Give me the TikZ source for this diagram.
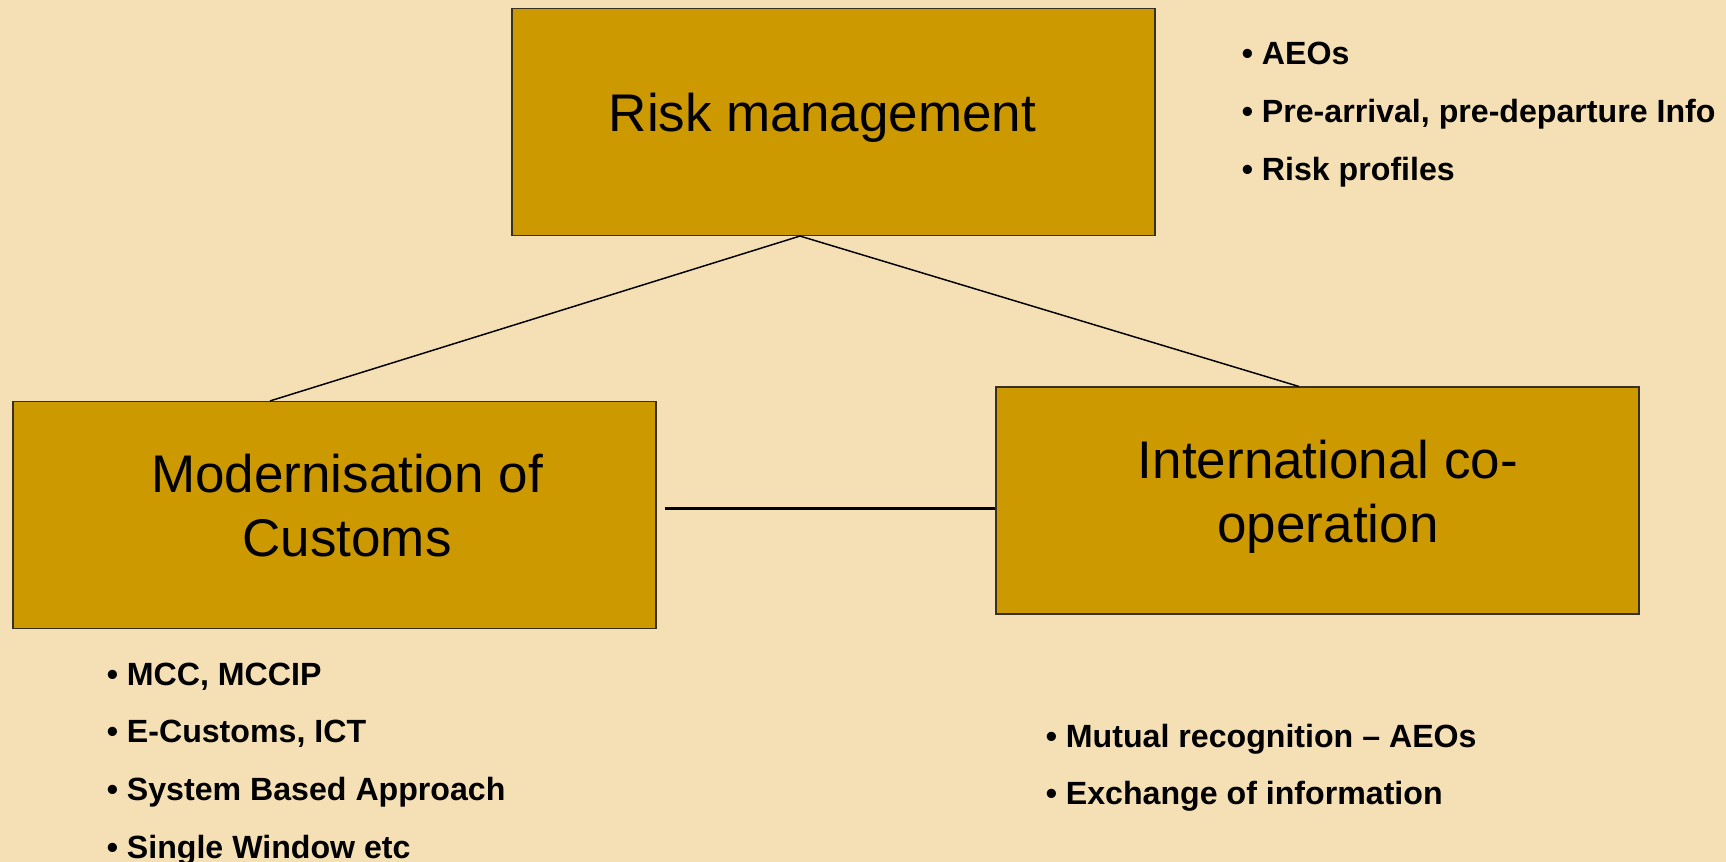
\documentclass[tikz,border=0pt]{standalone}
\usepackage{amsmath}
\usepackage{fontspec}
\setmainfont{Liberation Sans}
\usetikzlibrary{calc}

\definecolor{wheatbg}{RGB}{245,223,180}
\definecolor{boxgold}{RGB}{204,153,0}
\definecolor{boxedge}{RGB}{55,48,35}

\tikzset{
  box/.style={draw=boxedge, fill=boxgold, line width=1.1pt, minimum width=482.25pt, minimum height=170pt, inner sep=0pt},
  boxtext/.style={inner sep=0pt, align=center, font=\fontsize{39.75pt}{48pt}\selectfont},
  bullets/.style={inner sep=0pt, anchor=north west, align=left, font=\fontsize{24.1pt}{43.3pt}\selectfont\bfseries},
  link/.style={draw=black, line width=1.1pt}
}

\begin{document}
\begin{tikzpicture}[x=0.75pt,y=0.75pt,yscale=-1,xscale=1]
\useasboundingbox (0,0) rectangle (1726,862);
%Background
\fill [wheatbg] (0,0) rectangle (1726,862);

%Shape: Rectangle
\node [box] (risk) at (833.5,122) {};
%Shape: Rectangle
\node [box] (mod) at (334.5,515) {};
%Shape: Rectangle
\node [box] (intl) at (1317.5,500.5) {};

%Straight Lines
\draw [link] ($(risk.south west)!0.448!(risk.south east)$) -- ($(mod.north west)!0.4!(mod.north east)$) ;
%Straight Lines
\draw [link] ($(risk.south west)!0.448!(risk.south east)$) -- ($(intl.north west)!0.471!(intl.north east)$) ;
%Straight Lines
\draw [link, line width=2.25pt] ($(mod.east)+(8,-7)$) coordinate (hstart) -- (hstart -| intl.west) ;

% Text Node
\node [boxtext] (riskText) at (822.5,118.3) {Risk management};
% Text Node
\node [boxtext] (modText) at (347,505.9) {Modernisation of\\Customs};
% Text Node
\node [boxtext] (intlText) at (1328,496.3) {International co-\\operation};

% Text Node
\node [bullets] (riskList) at (1241.5,42) {• AEOs\\• Pre-arrival, pre-departure Info\\• Risk profiles};
% Text Node
\node [bullets] (modList) at (106.5,662.5) {• MCC, MCCIP\\• E-Customs, ICT\\• System Based Approach\\• Single Window etc};
% Text Node
\node [bullets] (intlList) at (1045.5,723.5) {• Mutual recognition – AEOs\\• Exchange of information};

\end{tikzpicture}
\end{document}
